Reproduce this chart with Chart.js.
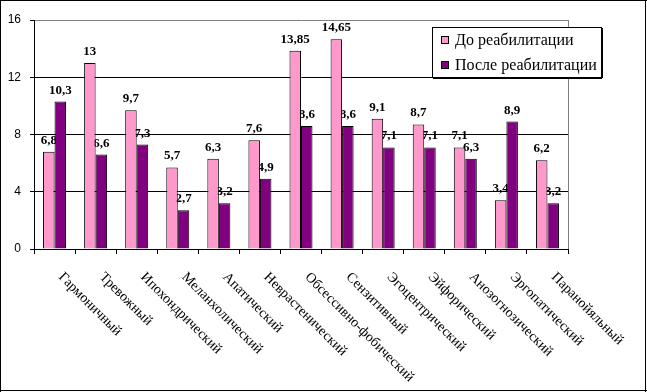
<!DOCTYPE html>
<html>
<head>
<meta charset="utf-8">
<script src="https://cdn.jsdelivr.net/npm/chart.js@4/dist/chart.umd.min.js"></script>
<style>
html,body{margin:0;padding:0;background:#fff}
#wrap{width:647px;height:392px}
</style>
</head>
<body>
<div id="wrap"><canvas id="grafico"></canvas></div>
<script>
const categorias=['Гармоничный','Тревожный','Ипохондрический','Меланхолический','Апатический','Неврастенический','Обсессивно-фобический','Сензитивный','Эгоцентрический','Эйфорический','Анозогнозический','Эргопатический','Паранойяльный']
const antes=[6.8,13,9.7,5.7,6.3,7.6,13.85,14.65,9.1,8.7,7.1,3.4,6.2]
const depois=[10.3,6.6,7.3,2.7,3.2,4.9,8.6,8.6,7.1,7.1,6.3,8.9,3.2]
const series=['До реабилитации','После реабилитации']
const cores=['#ff99cc','#800080']
const yMin=0,yMax=16,yPasso=4

const SERIF='"Liberation Serif","Times New Roman",serif'

// rotulos de valor: desenhados antes das barras, como no original
const rotulosValor={
id:'rotulosValor',
beforeDatasetsDraw(chart){
let ctx=chart.ctx
ctx.save()
ctx.font='bold 13px '+SERIF
ctx.fillStyle='#000'
ctx.textAlign='center'
ctx.textBaseline='alphabetic'
chart.data.datasets.forEach((ds,d)=>{
chart.getDatasetMeta(d).data.forEach((bar,i)=>{
ctx.fillText(String(ds.data[i]).replace('.',','),bar.x,bar.y-8)
})
})
ctx.restore()
}
}

const extras={
id:'extras',
beforeDraw(chart){
let ctx=chart.ctx
ctx.save()
ctx.fillStyle='#fff'
ctx.fillRect(0,0,chart.width,chart.height)
ctx.restore()
},
afterDraw(chart){
let ctx=chart.ctx
let a=chart.chartArea
let x=chart.scales.x
ctx.save()

// borda direita cinza
ctx.strokeStyle='#808080'
ctx.lineWidth=1
ctx.beginPath()
ctx.moveTo(Math.round(a.right)+0.5,a.top)
ctx.lineTo(Math.round(a.right)+0.5,a.bottom)
ctx.stroke()

// rotulos do eixo x inclinados para baixo
ctx.font='14px '+SERIF
ctx.fillStyle='#000'
ctx.textAlign='left'
ctx.textBaseline='middle'
categorias.forEach((c,i)=>{
let px=x.getPixelForValue(i)
ctx.save()
ctx.translate(px+6,a.bottom+26)
ctx.rotate(Math.PI/4)
ctx.fillText(c,0,0)
ctx.restore()
})

// legenda
let lx=432,ly=27,lw=169,lh=50
ctx.fillStyle='#fff'
ctx.fillRect(lx,ly,lw,lh)
ctx.strokeStyle='#000'
ctx.strokeRect(lx+0.5,ly+0.5,lw,lh)
ctx.fillStyle='#000'
ctx.fillRect(lx+1,ly+lh+1,lw,1)
ctx.fillRect(lx+lw+1,ly+1,1,lh)
ctx.font='16px '+SERIF
ctx.textBaseline='middle'
series.forEach((s,i)=>{
let cy=ly+13+i*25
ctx.fillStyle=cores[i]
ctx.fillRect(lx+9,cy-4,8,8)
ctx.strokeStyle='#000'
ctx.strokeRect(lx+9.5,cy-3.5,7,7)
ctx.fillStyle='#000'
ctx.fillText(s,lx+23,cy+1)
})

// moldura externa
ctx.fillStyle='#000'
ctx.fillRect(0,0,chart.width,1)
ctx.fillRect(0,0,1,chart.height)
ctx.fillRect(645,0,1,chart.height)
ctx.fillRect(0,390,chart.width,1)
ctx.restore()
}
}

new Chart(document.getElementById('grafico'),{
type:'bar',
data:{
labels:categorias,
datasets:[
{label:series[0],data:antes,backgroundColor:cores[0],borderColor:'#000',borderWidth:1,barPercentage:1,categoryPercentage:0.56},
{label:series[1],data:depois,backgroundColor:cores[1],borderColor:'#000',borderWidth:1,barPercentage:1,categoryPercentage:0.56}
]
},
options:{
responsive:true,
maintainAspectRatio:false,
animation:false,
layout:{padding:{top:20,right:79,left:0,bottom:0}},
plugins:{
legend:{display:false},
tooltip:{enabled:false}
},
scales:{
x:{
offset:true,
grid:{offset:true,drawOnChartArea:false,tickLength:5,color:'#000'},
border:{color:'#000'},
ticks:{display:false},
afterFit(s){s.height=143}
},
y:{
min:yMin,
max:yMax,
ticks:{stepSize:yPasso,color:'#000',padding:9,font:{family:'"Liberation Sans",Arial,sans-serif',size:12}},
grid:{
color:c=>c.tick&&c.tick.value===yMax?'#808080':'#000',
tickColor:'#000',
tickLength:4
},
border:{color:'#000'},
afterFit(s){s.width=34}
}
}
},
plugins:[rotulosValor,extras]
})
</script>
</body>
</html>
